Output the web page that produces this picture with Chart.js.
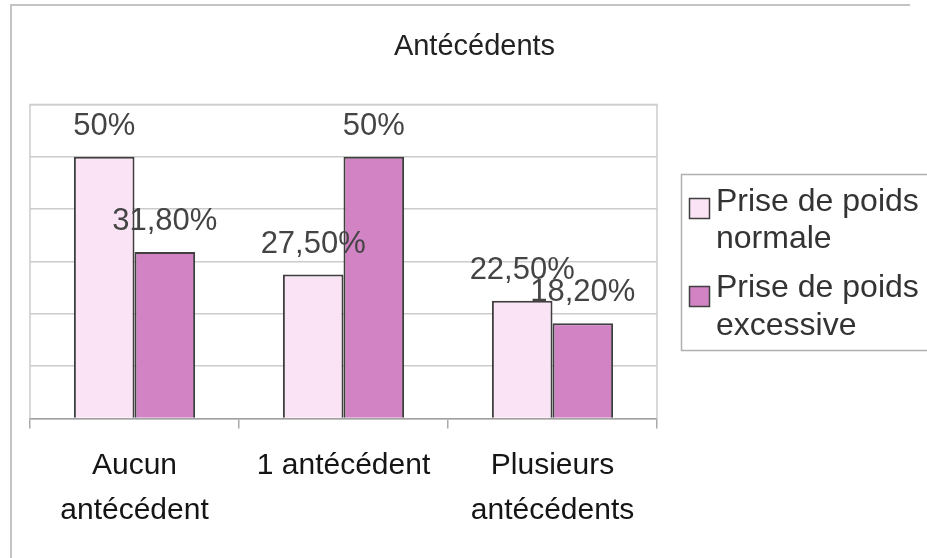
<!DOCTYPE html>
<html>
<head>
<meta charset="utf-8">
<script src="https://cdn.jsdelivr.net/npm/chart.js@4/dist/chart.umd.min.js"></script>
<style>
  html, body { margin: 0; padding: 0; background: #ffffff; }
  #wrap { width: 927px; height: 558px; }
</style>
</head>
<body>
<div id="wrap"><canvas id="c" width="927" height="558"></canvas></div>
<script>
const chartTitle = 'Antécédents';
const categories = [['Aucun', 'antécédent'], '1 antécédent', ['Plusieurs', 'antécédents']];
const seriesNames = ['Prise de poids normale', 'Prise de poids excessive'];
const normaleValues = [50, 27.5, 22.5];
const excessiveValues = [31.8, 50, 18.2];
const yTicks = [0, 10, 20, 30, 40, 50, 60];

const PALE = '#F9E3F4';
const MAGENTA = '#D283C4';
const EDGE = '#3f3f3f';
const FONT = '"Liberation Sans", Arial, sans-serif';

function fmt(v) {
  return (v % 1 === 0) ? (v + '%') : (v.toFixed(2).replace('.', ',') + '%');
}

const decor = {
  id: 'decor',
  beforeDraw(chart) {
    const ctx = chart.ctx;
    ctx.save();
    ctx.fillStyle = '#ffffff';
    ctx.fillRect(0, 0, chart.width, chart.height);
    ctx.strokeStyle = '#c4c4c4';
    ctx.lineWidth = 2;
    ctx.beginPath();
    ctx.moveTo(11, chart.height);
    ctx.lineTo(11, 5);
    ctx.lineTo(910, 5);
    ctx.stroke();
    ctx.restore();
  },
  beforeDatasetsDraw(chart) {
    const a = chart.chartArea;
    const ctx = chart.ctx;
    ctx.save();
    ctx.strokeStyle = '#cccccc';
    ctx.lineWidth = 1.5;
    ctx.beginPath();
    ctx.moveTo(a.left, a.bottom);
    ctx.lineTo(a.left, a.top);
    ctx.lineTo(a.right, a.top);
    ctx.lineTo(a.right, a.bottom);
    ctx.stroke();
    ctx.restore();
  },
  afterDatasetsDraw(chart) {
    const ctx = chart.ctx;
    ctx.save();
    ctx.font = '31px ' + FONT;
    ctx.fillStyle = '#444444';
    ctx.textAlign = 'center';
    ctx.textBaseline = 'alphabetic';
    chart.data.datasets.forEach((ds, di) => {
      const meta = chart.getDatasetMeta(di);
      meta.data.forEach((bar, i) => {
        ctx.fillText(fmt(ds.data[i]), bar.x, bar.y - 22);
      });
    });
    ctx.restore();
  },
  afterDraw(chart) {
    const ctx = chart.ctx;
    ctx.save();
    ctx.font = '29px ' + FONT;
    ctx.fillStyle = '#222222';
    ctx.textAlign = 'center';
    ctx.textBaseline = 'alphabetic';
    ctx.fillText(chartTitle, 474.5, 55);
    ctx.strokeStyle = '#b0b0b0';
    ctx.lineWidth = 1.5;
    ctx.strokeRect(681.5, 174.5, 270, 176);
    ctx.font = '32px ' + FONT;
    ctx.textAlign = 'left';
    const rowsY = [[210.5, 248], [296.5, 335]];
    const swY = [198, 286];
    chart.data.datasets.forEach((ds, di) => {
      ctx.fillStyle = ds.backgroundColor;
      ctx.fillRect(689, swY[di], 21, 21);
      ctx.strokeStyle = EDGE;
      ctx.lineWidth = 1.5;
      ctx.strokeRect(689.5, swY[di] + 0.5, 20, 20);
      const lines = ds.label.split(/(?<=poids) /);
      ctx.fillStyle = '#333333';
      lines.forEach((ln, li) => ctx.fillText(ln, 716, rowsY[di][li]));
    });
    ctx.restore();
  }
};

new Chart(document.getElementById('c'), {
  type: 'bar',
  data: {
    labels: categories,
    datasets: [
      { label: seriesNames[0], data: normaleValues, backgroundColor: PALE, borderColor: EDGE, borderWidth: 2 },
      { label: seriesNames[1], data: excessiveValues, backgroundColor: MAGENTA, borderColor: EDGE, borderWidth: 2 }
    ]
  },
  options: {
    responsive: false,
    devicePixelRatio: 1,
    animation: false,
    categoryPercentage: 0.58,
    barPercentage: 1,
    layout: { padding: { left: 30, right: 270, top: 104.5, bottom: 0 } },
    plugins: {
      legend: { display: false },
      title: { display: false },
      tooltip: { enabled: false }
    },
    scales: {
      x: {
        grid: { offset: true, drawOnChartArea: false, drawTicks: true, tickLength: 10, color: '#aaaaaa', lineWidth: 1.5 },
        border: { display: true, color: '#a0a0a0', width: 1.5 },
        ticks: { font: { family: FONT, size: 30, lineHeight: 1.5 }, color: '#151515', padding: 15, maxRotation: 0, autoSkip: false },
        afterFit(scale) { scale.height = 139.5; }
      },
      y: {
        min: 0,
        max: 60,
        afterBuildTicks(scale) { scale.ticks = yTicks.map(v => ({ value: v })); },
        ticks: { display: false },
        grid: { color: '#cccccc', lineWidth: 1.5, drawTicks: false },
        border: { display: false },
        afterFit(scale) { scale.width = 0; }
      }
    }
  },
  plugins: [decor]
});
</script>
</body>
</html>
